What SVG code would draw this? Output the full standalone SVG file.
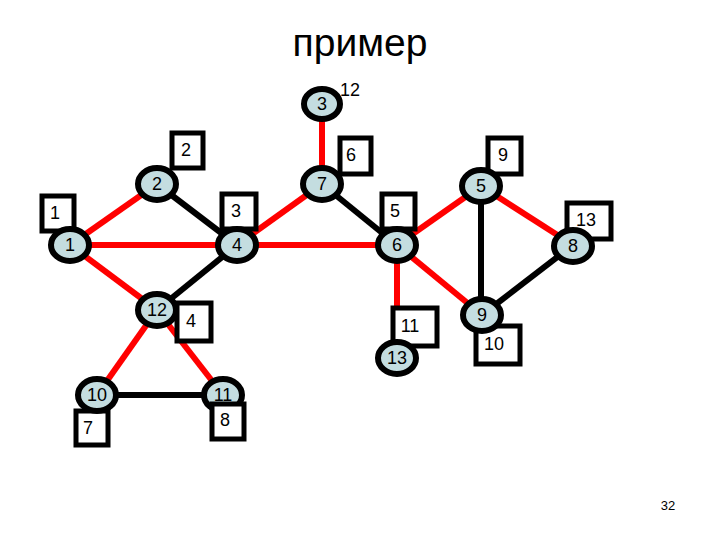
<svg xmlns="http://www.w3.org/2000/svg" width="720" height="540" viewBox="0 0 720 540">
<style>
text{font-family:"Liberation Sans",Arial,sans-serif;fill:#000}
.n{fill:#c4dde0;stroke:#000;stroke-width:6}
.b{fill:#fff;stroke:#000;stroke-width:5}
.r{stroke:#f00;stroke-width:6;fill:none}
.k{stroke:#000;stroke-width:6;fill:none}
.nl{font-size:18px;text-anchor:middle}
.bl{font-size:18px;text-anchor:middle}
</style>
<rect width="720" height="540" fill="#fff"/>
<text x="360" y="56" font-size="39" text-anchor="middle">пример</text>
<g id="connectors">
<line class="r" x1="322" y1="104" x2="322" y2="184"/>
<line class="r" x1="70" y1="245" x2="157" y2="184"/>
<line class="r" x1="70" y1="245" x2="237" y2="245"/>
<line class="r" x1="70" y1="245" x2="157" y2="310"/>
<line class="r" x1="237" y1="245" x2="322" y2="184"/>
<line class="r" x1="237" y1="245" x2="397" y2="245"/>
<line class="r" x1="397" y1="245" x2="481" y2="186"/>
<line class="r" x1="481" y1="186" x2="573" y2="245"/>
<line class="r" x1="397" y1="245" x2="482" y2="315"/>
<line class="r" x1="397" y1="245" x2="397" y2="358"/>
<line class="r" x1="157" y1="310" x2="97" y2="395"/>
<line class="r" x1="157" y1="310" x2="223" y2="395"/>
<line class="k" x1="157" y1="184" x2="237" y2="245"/>
<line class="k" x1="322" y1="184" x2="397" y2="245"/>
<line class="k" x1="481" y1="186" x2="481" y2="315"/>
<line class="k" x1="573" y1="245" x2="482" y2="315"/>
<line class="k" x1="237" y1="245" x2="157" y2="310"/>
<line class="k" x1="97" y1="395" x2="223" y2="395"/>
</g>
<g id="node3"><ellipse class="n" cx="322" cy="104" rx="18" ry="15"/><text class="nl" x="322" y="110">3</text><text x="350" y="96" font-size="18" text-anchor="middle">12</text></g>
<g id="node2"><rect class="b" x="172" y="133" width="31" height="35"/><text class="bl" x="186" y="156">2</text><ellipse class="n" cx="157" cy="184" rx="19" ry="16"/><text class="nl" x="157" y="190">2</text></g>
<g id="node1"><rect class="b" x="42" y="196" width="32" height="35"/><text class="bl" x="55" y="219">1</text><ellipse class="n" cx="70" cy="245" rx="19" ry="16"/><text class="nl" x="70" y="251">1</text></g>
<g id="node4"><rect class="b" x="222" y="194" width="34" height="35"/><text class="bl" x="236" y="217">3</text><ellipse class="n" cx="237" cy="245" rx="19" ry="16"/><text class="nl" x="237" y="251">4</text></g>
<g id="node7"><rect class="b" x="340" y="138" width="31" height="36"/><text class="bl" x="351" y="161">6</text><ellipse class="n" cx="322" cy="184" rx="19" ry="16"/><text class="nl" x="322" y="190">7</text></g>
<g id="node6"><rect class="b" x="382" y="194" width="33" height="35"/><text class="bl" x="395" y="217">5</text><ellipse class="n" cx="397" cy="245" rx="19" ry="16"/><text class="nl" x="397" y="251">6</text></g>
<g id="node5"><rect class="b" x="488" y="138" width="33" height="36"/><text class="bl" x="503" y="161">9</text><ellipse class="n" cx="481" cy="186" rx="19" ry="16"/><text class="nl" x="481" y="192">5</text></g>
<g id="node8"><rect class="b" x="567" y="203" width="44" height="36"/><text class="bl" x="586" y="226">13</text><ellipse class="n" cx="573" cy="246" rx="19" ry="16"/><text class="nl" x="573" y="252">8</text></g>
<g id="node12"><rect class="b" x="177" y="303" width="34" height="38"/><text class="bl" x="191" y="327">4</text><ellipse class="n" cx="157" cy="310" rx="19" ry="16"/><text class="nl" x="157" y="316">12</text></g>
<g id="node10"><rect class="b" x="76" y="411" width="32" height="34"/><text class="bl" x="88" y="434">7</text><ellipse class="n" cx="97" cy="395" rx="19" ry="16"/><text class="nl" x="97" y="401">10</text></g>
<g id="node11"><ellipse class="n" cx="223" cy="395" rx="19" ry="16"/><text class="nl" x="223" y="401">11</text><rect class="b" x="212" y="404" width="32" height="35"/><text class="bl" x="225" y="426">8</text></g>
<g id="node13"><rect class="b" x="393" y="308" width="44" height="38"/><text class="bl" x="410" y="332">11</text><ellipse class="n" cx="397" cy="358" rx="19" ry="16"/><text class="nl" x="397" y="364">13</text></g>
<g id="node9"><rect class="b" x="476" y="326" width="44" height="38"/><text class="bl" x="494" y="350">10</text><ellipse class="n" cx="482" cy="315" rx="19" ry="16"/><text class="nl" x="482" y="321">9</text></g>
<text x="668" y="510" font-size="13" text-anchor="middle">32</text>
</svg>
